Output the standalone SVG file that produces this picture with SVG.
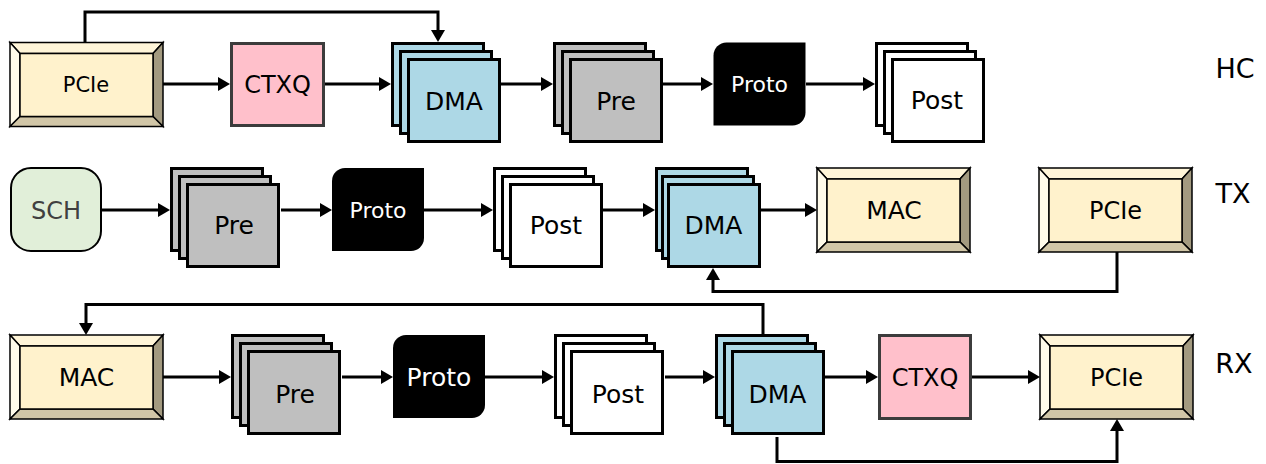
<svg xmlns="http://www.w3.org/2000/svg" xmlns:xlink="http://www.w3.org/1999/xlink" width="1266" height="464" viewBox="0 0 1266 464">
  <style>
    text { font-family: "DejaVu Sans", "Noto Sans", sans-serif; text-anchor: middle; fill: #000; stroke: none; }
    .lbl { font-size: 27px; }
    .stk { stroke: #000; stroke-width: 3; }
    .dma { fill: #add8e6; }
    .pre { fill: #bfbfbf; }
    .post { fill: #ffffff; }
    .ctxq { fill: #ffc0cb; stroke: #3c3c3c; stroke-width: 3; }
    .proto { fill: #000; }
    text.proto-t { fill: #fff; }
    .bv { stroke: #000; stroke-width: 1.5; stroke-linejoin: miter; }
    .edge { fill: none; stroke: #000; stroke-width: 3; marker-end: url(#ah); }
  </style>
  <defs>
    <marker id="ah" markerUnits="userSpaceOnUse" markerWidth="13" markerHeight="15" refX="1" refY="7" orient="auto">
      <path d="M0,0 L12,7 L0,14 z" fill="#000"/>
    </marker>
    <!-- bevelled frame 153 x 84 -->
    <g id="bevel" class="bv">
      <polygon points="0,0 153,0 143,11 10,11" fill="#fff5d8"/>
      <polygon points="0,0 10,11 10,74 0,84" fill="#fffbea"/>
      <polygon points="153,0 153,84 143,74 143,11" fill="#a39a80"/>
      <polygon points="0,84 10,74 143,74 153,84" fill="#d1c6a7"/>
      <rect x="10" y="11" width="133" height="63" fill="#fff2cc"/>
    </g>
    <!-- leaf shape: round corners top-left and bottom-right -->
    <path id="leaf" d="M13,0 H92 V70 A13,13 0 0 1 79,83 H0 V13 A13,13 0 0 1 13,0 Z"/>
    <!-- three stacked sheets, fill and stroke inherited from the <use> -->
    <g id="stack8">
      <rect x="1.5" y="1.5" width="91" height="82"/>
      <rect x="9.5" y="9.5" width="91" height="82"/>
      <rect x="17.5" y="17.5" width="91" height="82"/>
    </g>
    <g id="stack6">
      <rect x="1.5" y="1.5" width="91" height="82"/>
      <rect x="7.5" y="9.5" width="91" height="82"/>
      <rect x="13.5" y="17.5" width="91" height="82"/>
    </g>
  </defs>

  <!-- connectors -->
  <g id="connectors">
    <!-- HC -->
    <path class="edge" d="M85,42 V12 H438 V31"/>
    <path class="edge" d="M163,84 H219"/>
    <path class="edge" d="M325,84 H380"/>
    <path class="edge" d="M500,84 H542"/>
    <path class="edge" d="M663,84 H702"/>
    <path class="edge" d="M806,84 H864"/>
    <!-- TX -->
    <path class="edge" d="M102,210 H159"/>
    <path class="edge" d="M281,210 H321"/>
    <path class="edge" d="M424,210 H482"/>
    <path class="edge" d="M603,210 H644"/>
    <path class="edge" d="M760,210 H806"/>
    <path class="edge" d="M1117,252 V291.5 H713 V279"/>
    <!-- RX -->
    <path class="edge" d="M763,334 V304.5 H86 V324"/>
    <path class="edge" d="M163,377 H220"/>
    <path class="edge" d="M342,377 H382"/>
    <path class="edge" d="M485,377 H543"/>
    <path class="edge" d="M665,377 H704"/>
    <path class="edge" d="M824,377 H867"/>
    <path class="edge" d="M972,377 H1029"/>
    <path class="edge" d="M777,437 V461.5 H1117 V430"/>
  </g>

  <!-- HC row -->
  <g id="hc-pcie">
    <use xlink:href="#bevel" transform="translate(10,42.5)"/>
    <text x="86" y="92" style="font-size:21px">PCIe</text>
  </g>
  <g id="hc-ctxq">
    <rect class="ctxq" x="231.5" y="43.5" width="92" height="82"/>
    <text x="277.5" y="93" style="font-size:24px">CTXQ</text>
  </g>
  <g id="hc-dma">
    <use xlink:href="#stack8" class="stk dma" transform="translate(391,42)"/>
    <text x="454" y="109.5" style="font-size:25px">DMA</text>
  </g>
  <g id="hc-pre">
    <use xlink:href="#stack8" class="stk pre" transform="translate(553,42)"/>
    <text x="616" y="109.5" style="font-size:25px">Pre</text>
  </g>
  <g id="hc-proto">
    <use xlink:href="#leaf" class="proto" transform="translate(713.5,42.5)"/>
    <text class="proto-t" x="759.5" y="92" style="font-size:22px">Proto</text>
  </g>
  <g id="hc-post">
    <use xlink:href="#stack8" class="stk post" transform="translate(875,42)"/>
    <text x="937" y="109" style="font-size:25px">Post</text>
  </g>
  <g id="hc-label">
    <text class="lbl" x="1235" y="78">HC</text>
  </g>

  <!-- TX row -->
  <g id="tx-sch">
    <rect x="11" y="168" width="90" height="83" rx="20" ry="20" fill="#e1efd9" stroke="#000" stroke-width="2"/>
    <text x="56" y="219" style="font-size:24px;fill:#404040">SCH</text>
  </g>
  <g id="tx-pre">
    <use xlink:href="#stack8" class="stk pre" transform="translate(170,167)"/>
    <text x="234" y="234" style="font-size:25px">Pre</text>
  </g>
  <g id="tx-proto">
    <use xlink:href="#leaf" class="proto" transform="translate(332,168)"/>
    <text class="proto-t" x="378" y="217.5" style="font-size:22px">Proto</text>
  </g>
  <g id="tx-post">
    <use xlink:href="#stack8" class="stk post" transform="translate(493,167)"/>
    <text x="556" y="234" style="font-size:25px">Post</text>
  </g>
  <g id="tx-dma">
    <use xlink:href="#stack6" class="stk dma" transform="translate(655,167)"/>
    <text x="713.5" y="234" style="font-size:25px">DMA</text>
  </g>
  <g id="tx-mac">
    <use xlink:href="#bevel" transform="translate(817,168)"/>
    <text x="894" y="219" style="font-size:25px">MAC</text>
  </g>
  <g id="tx-pcie">
    <use xlink:href="#bevel" transform="translate(1039,168)"/>
    <text x="1115.5" y="218.5" style="font-size:24px">PCIe</text>
  </g>
  <g id="tx-label">
    <text class="lbl" x="1233" y="202.5">TX</text>
  </g>

  <!-- RX row -->
  <g id="rx-mac">
    <use xlink:href="#bevel" transform="translate(10,335)"/>
    <text x="86.5" y="386" style="font-size:25px">MAC</text>
  </g>
  <g id="rx-pre">
    <use xlink:href="#stack8" class="stk pre" transform="translate(231,334)"/>
    <text x="295" y="403" style="font-size:25px">Pre</text>
  </g>
  <g id="rx-proto">
    <use xlink:href="#leaf" class="proto" transform="translate(393,335)"/>
    <text class="proto-t" x="439" y="386" style="font-size:25px">Proto</text>
  </g>
  <g id="rx-post">
    <use xlink:href="#stack8" class="stk post" transform="translate(554,334)"/>
    <text x="618" y="403" style="font-size:25px">Post</text>
  </g>
  <g id="rx-dma">
    <use xlink:href="#stack8" class="stk dma" transform="translate(715,334)"/>
    <text x="777.5" y="403" style="font-size:25px">DMA</text>
  </g>
  <g id="rx-ctxq">
    <rect class="ctxq" x="879.5" y="335.5" width="91" height="83"/>
    <text x="925" y="386" style="font-size:24px">CTXQ</text>
  </g>
  <g id="rx-pcie">
    <use xlink:href="#bevel" transform="translate(1040,335)"/>
    <text x="1116.5" y="386" style="font-size:24px">PCIe</text>
  </g>
  <g id="rx-label">
    <text class="lbl" x="1234" y="372.5">RX</text>
  </g>
</svg>
